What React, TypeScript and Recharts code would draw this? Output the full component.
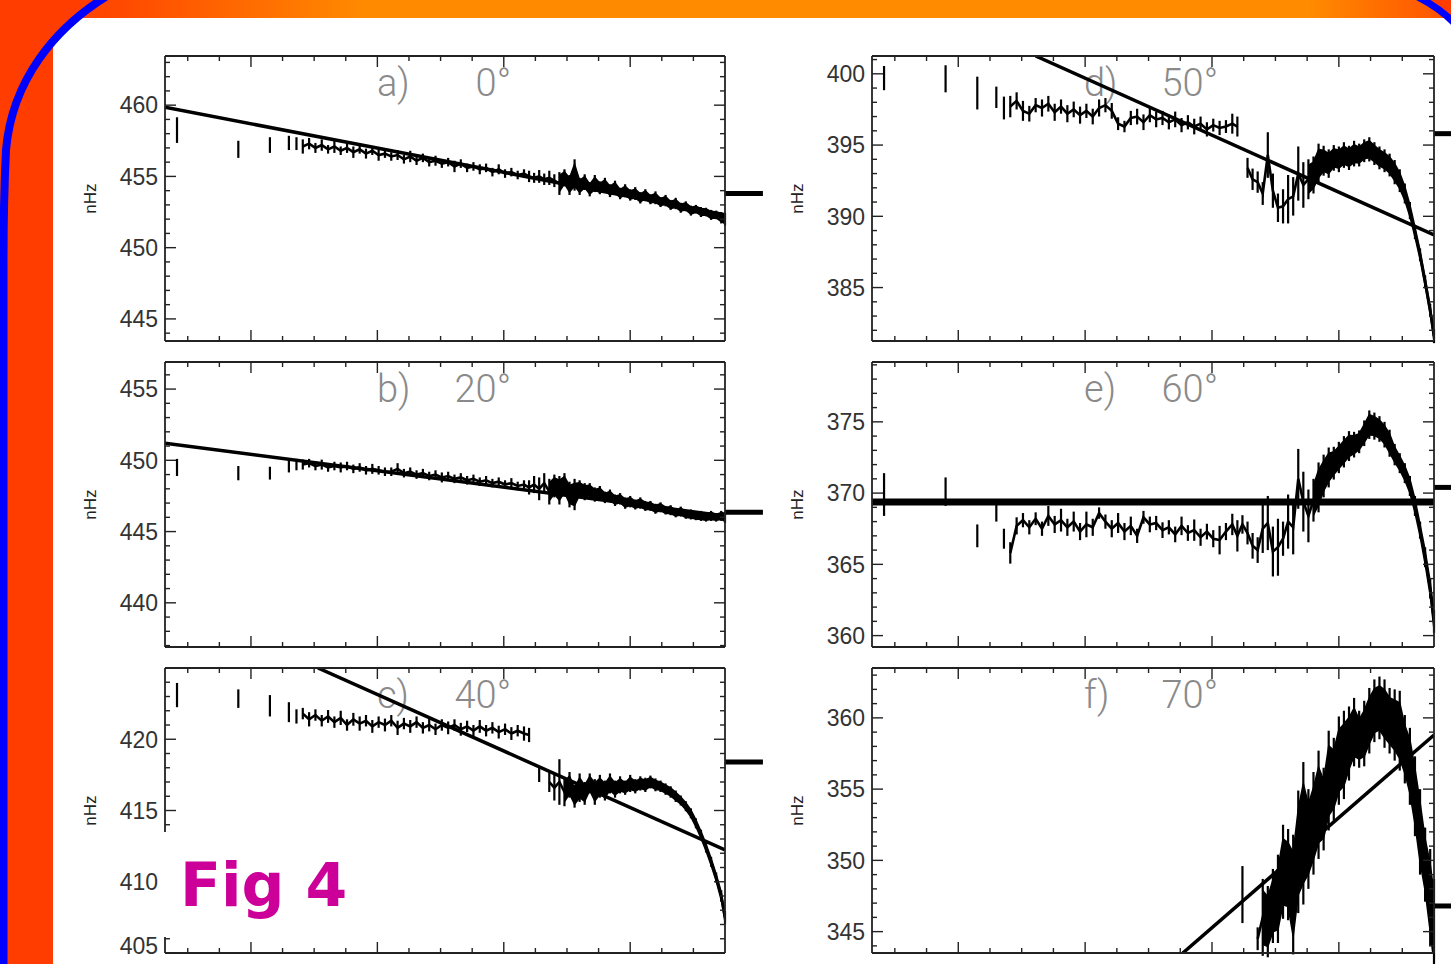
import React from 'react'
import { ComposedChart, XAxis, YAxis, Line, Area, Scatter, ErrorBar, ReferenceLine, Label } from 'recharts'

// radial sample points (shared by every latitude)
const RADIUS = [
  0.5415, 0.590, 0.615, 0.630, 0.636,
  0.641, 0.646, 0.651, 0.656, 0.661, 0.666, 0.671, 0.676, 0.681, 0.686,
  0.691, 0.696, 0.701, 0.706, 0.711, 0.716, 0.721, 0.726, 0.731, 0.736,
  0.741, 0.746, 0.751, 0.756, 0.761, 0.766, 0.771, 0.776, 0.781, 0.786,
  0.791, 0.796, 0.801, 0.806, 0.811, 0.816,
  0.820, 0.824, 0.828, 0.832, 0.836, 0.840, 0.844, 0.848, 0.852, 0.856,
  0.860, 0.864, 0.868, 0.872, 0.876, 0.880, 0.884, 0.888, 0.892, 0.896,
  0.900, 0.904, 0.908, 0.912, 0.916, 0.920, 0.924, 0.928, 0.932, 0.936,
  0.940, 0.944, 0.948, 0.952, 0.956, 0.960, 0.964, 0.968, 0.972, 0.975,
]

const RADIUS_TICKS = [
  0.55, 0.575, 0.6, 0.625, 0.65, 0.675, 0.7, 0.725, 0.75,
  0.775, 0.8, 0.825, 0.85, 0.875, 0.9, 0.925, 0.95,
]

// a) 0 deg
const A_FREQ = [
  458.25, 456.9, 457.2, 457.35, 457.3,
  457.1, 457.3, 457.0, 457.2, 456.9, 457.1, 456.8, 457.0, 456.7, 456.9,
  456.6, 456.8, 456.5, 456.6, 456.4, 456.5, 456.2, 456.4, 456.1, 456.3,
  456.0, 456.1, 455.9, 456.0, 455.7, 455.9, 455.6, 455.7, 455.5, 455.6,
  455.3, 455.5, 455.2, 455.3, 455.1, 455.2,
  455.0, 454.9, 455.0, 454.8, 454.9, 454.7, 454.5, 454.9, 454.4, 455.1,
  454.3, 454.6, 454.1, 454.5, 454.2, 454.4, 454.0, 454.2, 453.8, 454.0,
  453.7, 453.8, 453.5, 453.7, 453.4, 453.5, 453.2, 453.3, 453.0, 453.1,
  452.8, 452.9, 452.6, 452.7, 452.5, 452.5, 452.3, 452.3, 452.1, 452.0,
]
const A_ERR = [
  0.9, 0.6, 0.55, 0.5, 0.45,
  0.5, 0.4, 0.35, 0.4, 0.3, 0.45, 0.3, 0.35, 0.4, 0.3,
  0.35, 0.3, 0.4, 0.3, 0.3, 0.35, 0.3, 0.4, 0.3, 0.3,
  0.3, 0.35, 0.3, 0.3, 0.4, 0.3, 0.3, 0.3, 0.35, 0.3,
  0.3, 0.35, 0.3, 0.3, 0.3, 0.3,
  0.4, 0.35, 0.45, 0.4, 0.5, 0.45, 0.8, 0.6, 0.7, 1.1,
  0.6, 0.55, 0.5, 0.6, 0.45, 0.5, 0.45, 0.5, 0.4, 0.45,
  0.4, 0.45, 0.4, 0.4, 0.35, 0.45, 0.35, 0.4, 0.35, 0.4,
  0.35, 0.35, 0.35, 0.3, 0.35, 0.3, 0.35, 0.3, 0.4, 0.45,
]

// b) 20 deg
const B_FREQ = [
  449.5, 449.1, 449.1, 449.6, 449.7,
  449.7, 449.8, 449.6, 449.7, 449.5, 449.6, 449.5, 449.6, 449.4, 449.5,
  449.3, 449.4, 449.3, 449.2, 449.2, 449.4, 449.1, 449.2, 449.0, 449.1,
  448.9, 449.0, 448.8, 448.9, 448.7, 448.8, 448.6, 448.7, 448.5, 448.6,
  448.4, 448.5, 448.3, 448.4, 448.2, 448.3,
  448.1, 448.3, 448.0, 448.4, 447.8, 448.2, 447.9, 448.3, 447.6, 447.6,
  448.0, 447.8, 447.9, 447.6, 447.7, 447.4, 447.5, 447.2, 447.3, 447.0,
  447.1, 446.9, 447.0, 446.8, 446.8, 446.6, 446.7, 446.5, 446.5, 446.3,
  446.4, 446.2, 446.2, 446.1, 446.1, 446.0, 446.1, 446.0, 446.1, 446.0,
]
const B_ERR = [
  0.6, 0.5, 0.45, 0.45, 0.4,
  0.35, 0.3, 0.3, 0.35, 0.3, 0.3, 0.35, 0.3, 0.3, 0.3,
  0.3, 0.35, 0.3, 0.3, 0.3, 0.4, 0.3, 0.3, 0.3, 0.3,
  0.3, 0.3, 0.35, 0.3, 0.3, 0.3, 0.3, 0.3, 0.3, 0.3,
  0.3, 0.3, 0.3, 0.35, 0.3, 0.3,
  0.5, 0.6, 0.8, 0.7, 0.9, 0.8, 1.0, 0.8, 0.9, 1.1,
  0.6, 0.6, 0.5, 0.5, 0.5, 0.4, 0.45, 0.4, 0.4, 0.4,
  0.4, 0.35, 0.4, 0.35, 0.35, 0.35, 0.35, 0.3, 0.35, 0.3,
  0.35, 0.3, 0.35, 0.3, 0.35, 0.3, 0.35, 0.3, 0.35, 0.4,
]

// c) 40 deg
const C_FREQ = [
  423.1, 422.85, 422.35, 421.9, 421.6,
  421.8, 421.4, 421.7, 421.3, 421.6, 421.2, 421.5, 421.0, 421.4, 421.1,
  421.3, 420.9, 421.2, 421.0, 421.3, 420.8, 421.1, 420.9, 421.2, 420.8,
  421.0, 420.7, 421.0, 420.8, 421.0, 420.7, 420.9, 420.6, 420.9, 420.6,
  420.8, 420.5, 420.7, 420.4, 420.6, 420.4,
  420.3, null, 417.5, null, 417.0, 416.6, 417.0, 416.3, 416.8, 416.0,
  416.6, 416.2, 416.9, 416.3, 416.7, 416.4, 416.9, 416.5, 416.8, 416.6,
  416.9, 416.7, 416.9, 416.8, 417.0, 416.8, 416.7, 416.5, 416.3, 416.0,
  415.7, 415.3, 414.8, 414.1, 413.3, 412.4, 411.4, 410.3, 409.0, 407.5,
]
const C_ERR = [
  0.85, 0.65, 0.75, 0.7, 0.5,
  0.4, 0.5, 0.4, 0.4, 0.45, 0.4, 0.5, 0.4, 0.45, 0.5,
  0.4, 0.45, 0.4, 0.45, 0.4, 0.5, 0.4, 0.45, 0.4, 0.4,
  0.45, 0.4, 0.4, 0.45, 0.4, 0.45, 0.4, 0.4, 0.45, 0.4,
  0.4, 0.45, 0.4, 0.45, 0.4, 0.5,
  0.5, null, 0.5, null, 0.7, 0.9, 1.6, 1.0, 0.9, 0.8,
  1.0, 0.8, 0.7, 0.9, 0.8, 0.7, 0.7, 0.6, 0.6, 0.5,
  0.6, 0.5, 0.5, 0.5, 0.45, 0.45, 0.4, 0.4, 0.4, 0.4,
  0.35, 0.35, 0.35, 0.35, 0.35, 0.35, 0.35, 0.35, 0.4, 0.45,
]

// d) 50 deg
const D_FREQ = [
  399.7, 399.65, 398.65, 398.35, 397.6,
  397.7, 398.1, 397.4, 397.2, 397.8, 397.6, 397.9, 397.3, 397.7, 397.2,
  397.5, 397.1, 397.4, 397.0, 397.6, 397.8, 397.4, 396.5, 396.3, 396.9,
  397.0, 396.6, 397.1, 396.8, 396.9, 396.6, 396.8, 396.4, 396.6, 396.3,
  396.5, 396.1, 396.4, 396.2, 396.3, 396.5,
  396.3, null, 393.4, 392.6, 392.4, 391.6, 394.3, 391.8, 390.6, 390.7,
  391.2, 391.4, 393.0, 392.2, 392.6, 392.9, 393.7, 393.9, 393.7, 394.1,
  394.0, 394.3, 394.1, 394.4, 394.3, 394.6, 394.7, 394.4, 394.1, 393.9,
  393.6, 393.1, 392.5, 391.6, 390.4, 388.9, 387.3, 385.4, 383.4, 381.6,
]
const D_ERR = [
  0.85, 0.95, 1.15, 0.75, 0.8,
  0.75, 0.6, 0.7, 0.55, 0.5, 0.6, 0.55, 0.6, 0.5, 0.6,
  0.55, 0.6, 0.5, 0.55, 0.6, 0.5, 0.55, 0.45, 0.4, 0.5,
  0.55, 0.55, 0.5, 0.55, 0.5, 0.5, 0.55, 0.5, 0.5, 0.55,
  0.5, 0.5, 0.45, 0.5, 0.45, 0.7,
  0.7, null, 0.7, 0.75, 0.75, 0.8, 1.6, 1.2, 1.0, 1.2,
  1.7, 1.35, 1.9, 1.6, 1.4, 1.3, 1.4, 1.05, 1.0, 0.9,
  0.9, 0.9, 0.85, 0.9, 0.8, 0.8, 0.85, 0.8, 0.8, 0.8,
  0.8, 0.85, 0.8, 0.7, 0.6, 0.5, 0.45, 0.45, 0.45, 0.5,
]

// e) 60 deg
const E_FREQ = [
  369.9, 370.1, 367.0, 368.6, 366.8,
  365.8, 367.7, 368.1, 367.6, 368.2, 367.5, 368.4, 367.8, 368.1, 367.6,
  368.0, 367.3, 367.8, 367.6, 368.6, 368.0, 367.5, 367.9, 367.3, 367.7,
  367.0, 368.3, 367.8, 367.9, 367.4, 367.6, 367.1, 367.7, 367.2, 367.4,
  366.9, 367.3, 366.8, 366.7, 367.3, 367.8,
  367.0, 367.8, 367.2, 366.3, 366.0, 367.5, 367.9, 365.9, 366.2, 366.8,
  368.0, 367.6, 371.0, 369.4, 368.4, 369.5, 370.4, 371.2, 371.8, 372.1,
  372.5, 372.9, 373.3, 373.4, 373.6, 374.2, 374.8, 374.7, 374.5, 374.1,
  373.5, 372.7, 372.1, 371.4, 370.5, 369.1, 367.4, 365.5, 363.3, 361.0,
]
const E_ERR = [
  1.5, 1.0, 0.8, 0.6, 0.7,
  0.75, 0.6, 0.5, 0.5, 0.45, 0.5, 0.7, 0.6, 0.8, 0.6,
  0.7, 0.6, 0.9, 0.6, 0.4, 0.5, 0.6, 0.7, 0.6, 0.65,
  0.5, 0.45, 0.55, 0.5, 0.55, 0.5, 0.55, 0.65, 0.55, 0.75,
  0.6, 0.55, 0.6, 1.0, 0.6, 0.75,
  1.1, 0.65, 0.8, 0.9, 0.9, 1.7, 1.9, 1.75, 2.0, 1.2,
  1.9, 1.9, 2.1, 2.1, 1.85, 1.5, 1.75, 1.5, 1.4, 1.15,
  1.1, 1.1, 1.05, 0.9, 0.8, 0.9, 1.0, 0.95, 0.9, 0.9,
  0.95, 0.75, 0.7, 0.7, 0.7, 0.7, 0.6, 0.7, 0.7, 0.8,
]

// f) 70 deg, only the outer radii are resolved
const F_FREQ = [
  null, 347.6, null, null, 344.5, 346.0, 345.7, 346.8, 347.3, 349.2,
  349.0, 347.6, 350.6, 351.9, 351.5, 352.6, 353.9, 353.6, 355.6, 355.7,
  357.0, 357.4, 358.2, 359.0, 358.5, 358.9, 359.8, 360.5, 360.7, 360.3,
  359.8, 359.5, 359.1, 357.8, 356.6, 354.5, 352.0, 349.7, 347.4, 345.2,
]
const F_ERR = [
  null, 2.0, null, null, 0.8, 2.7, 2.5, 2.6, 3.1, 3.3,
  3.2, 4.2, 4.3, 5.0, 3.5, 3.6, 3.8, 2.9, 3.5, 2.9,
  3.1, 3.1, 2.6, 2.4, 2.0, 2.3, 2.3, 2.2, 2.2, 2.4,
  2.3, 2.5, 2.8, 2.4, 2.7, 2.8, 3.0, 2.6, 3.4, 3.5,
]

// straight-line fits
const FIT_A = [{ x: 0.532, y: 459.85 }, { x: 0.975, y: 452.3 }]
const FIT_B = [{ x: 0.532, y: 451.2 }, { x: 0.975, y: 446.1 }]
const FIT_C = [{ x: 0.653, y: 425.0 }, { x: 0.975, y: 412.24 }]
const FIT_D = [{ x: 0.661, y: 401.25 }, { x: 0.975, y: 388.7 }]
const FIT_E = [{ x: 0.532, y: 369.37 }, { x: 0.975, y: 369.37 }]
const FIT_F = [{ x: 0.777, y: 343.5 }, { x: 0.975, y: 358.8 }]

// surface values flagged beside each panel
const SURFACE_NHZ = [453.8, 446.35, 418.4, 395.8, 370.4, 346.8]

const TICKS_A = [444, 445, 446, 447, 448, 449, 450, 451, 452, 453, 454, 455, 456, 457, 458, 459, 460, 461, 462, 463]
const TICKS_B = [437, 438, 439, 440, 441, 442, 443, 444, 445, 446, 447, 448, 449, 450, 451, 452, 453, 454, 455, 456]
const TICKS_C = [405, 406, 407, 408, 409, 410, 411, 412, 413, 414, 415, 416, 417, 418, 419, 420, 421, 422, 423, 424]
const TICKS_D = [382, 383, 384, 385, 386, 387, 388, 389, 390, 391, 392, 393, 394, 395, 396, 397, 398, 399, 400, 401]
const TICKS_E = [360, 361, 362, 363, 364, 365, 366, 367, 368, 369, 370, 371, 372, 373, 374, 375, 376, 377, 378, 379]
const TICKS_F = [344, 345, 346, 347, 348, 349, 350, 351, 352, 353, 354, 355, 356, 357, 358, 359, 360, 361, 362, 363]

const X_DOMAIN = [0.532, 0.975]
const DENSE_FROM = 0.64
const AXIS_W = 95
const RIGHT_W = 42
const PLOT_H = 285
const PAD_TOP = 4
const PAD_BOTTOM = 14
const INK = '#222'
const LABEL_FONT = "'Liberation Sans', Arial, Helvetica, sans-serif"

const PANELS = [
  { tag: 'a)', lat: '0°', left: 165, top: 56, width: 560, domain: [443.45, 463.45], ticks: TICKS_A, freq: A_FREQ, err: A_ERR, start: 0, bandFrom: 0.842, fit: FIT_A, fitWidth: 3.5, mark: SURFACE_NHZ[0], markTo: 1.005 },
  { tag: 'b)', lat: '20°', left: 165, top: 362, width: 560, domain: [436.9, 456.9], ticks: TICKS_B, freq: B_FREQ, err: B_ERR, start: 0, bandFrom: 0.834, fit: FIT_B, fitWidth: 3.5, mark: SURFACE_NHZ[1], markTo: 1.005 },
  { tag: 'c)', lat: '40°', left: 165, top: 668, width: 560, domain: [405.0, 425.0], ticks: TICKS_C, freq: C_FREQ, err: C_ERR, start: 0, bandFrom: 0.846, fit: FIT_C, fitWidth: 3.5, mark: SURFACE_NHZ[2], markTo: 1.005 },
  { tag: 'd)', lat: '50°', left: 872, top: 56, width: 562, domain: [381.25, 401.25], ticks: TICKS_D, freq: D_FREQ, err: D_ERR, start: 0, bandFrom: 0.874, fit: FIT_D, fitWidth: 3.5, mark: SURFACE_NHZ[3], markTo: 0.992 },
  { tag: 'e)', lat: '60°', left: 872, top: 362, width: 562, domain: [359.2, 379.2], ticks: TICKS_E, freq: E_FREQ, err: E_ERR, start: 0, bandFrom: 0.878, fit: FIT_E, fitWidth: 7, mark: SURFACE_NHZ[4], markTo: 0.992 },
  { tag: 'f)', lat: '70°', left: 872, top: 668, width: 562, domain: [343.5, 363.5], ticks: TICKS_F, freq: F_FREQ, err: F_ERR, start: 41, bandFrom: 0.838, fit: FIT_F, fitWidth: 3.5, mark: SURFACE_NHZ[5], markTo: 0.992 },
]

const isMajorX = (v: number) => Math.round(v * 1000) % 100 === 0
const isMajorY = (v: number) => Math.round(v) % 5 === 0

function LeftTick({ x, y, payload, floor }: any) {
  const major = isMajorY(payload.value)
  // a label sitting right on the bottom edge is lifted so it stays on the page
  const lift = major && payload.value - floor < 0.3 ? -7 : 0
  return (
    <g>
      <line x1={x} x2={x + (major ? 11 : 5)} y1={y} y2={y} stroke={INK} strokeWidth={1.4} />
      {major && (
        <text x={x - 7} y={y + lift} dy="0.36em" textAnchor="end" fontSize={23} fill="#333" fontFamily={LABEL_FONT}>
          {payload.value}
        </text>
      )}
    </g>
  )
}

function RightTick({ x, y, payload }: any) {
  const len = isMajorY(payload.value) ? 11 : 5
  return <line x1={x} x2={x - len} y1={y} y2={y} stroke={INK} strokeWidth={1.4} />
}

function TopTick({ x, y, payload }: any) {
  const len = isMajorX(payload.value) ? 11 : 5
  return <line x1={x} x2={x} y1={y} y2={y + len} stroke={INK} strokeWidth={1.4} />
}

function BottomTick({ x, y, payload }: any) {
  const len = isMajorX(payload.value) ? 11 : 5
  return <line x1={x} x2={x} y1={y} y2={y - len} stroke={INK} strokeWidth={1.4} />
}

const noDot = () => <g />
const frame = { stroke: INK, strokeWidth: 1.8 }
const bandKey = (r: any) => r.band

function Panel({ p }: { p: (typeof PANELS)[number] }) {
  const rows = p.freq.map((y, i) => ({ x: RADIUS[p.start + i], y, e: p.err[i] }))
  const points = rows.filter((r) => r.y != null)
  const trace = rows.map((r) => ({ x: r.x, y: r.x >= DENSE_FROM ? r.y : null }))
  // solid envelope where the samples are packed tightly
  const envelope = rows.map((r) => ({
    x: r.x,
    band: r.y != null && r.e != null && r.x >= p.bandFrom ? [r.y - 0.7 * r.e, r.y + 0.7 * r.e] : null,
  }))

  return (
    <div style={{ position: 'absolute', left: p.left - AXIS_W, top: p.top - PAD_TOP }}>
      <ComposedChart width={AXIS_W + p.width + RIGHT_W} height={PLOT_H + PAD_TOP + PAD_BOTTOM}
        margin={{ top: PAD_TOP - 1, right: 0, bottom: PAD_BOTTOM - 1, left: 0 }}>
        <XAxis xAxisId="b" type="number" dataKey="x" domain={X_DOMAIN} allowDataOverflow ticks={RADIUS_TICKS} interval={0}
          height={1} tickSize={0} tickMargin={0} tickLine={false} axisLine={frame} tick={BottomTick} />
        <XAxis xAxisId="t" orientation="top" type="number" dataKey="x" domain={X_DOMAIN} allowDataOverflow ticks={RADIUS_TICKS} interval={0}
          height={1} tickSize={0} tickMargin={0} tickLine={false} axisLine={frame} tick={TopTick} />
        <YAxis yAxisId="l" type="number" domain={p.domain} allowDataOverflow ticks={p.ticks} interval={0}
          width={AXIS_W} tickSize={0} tickMargin={0} tickLine={false} axisLine={frame}
          tick={(props: any) => <LeftTick {...props} floor={p.domain[0]} />}>
          <Label value="nHz" angle={-90} position="center" dx={-28} fontSize={17} fill={INK} fontFamily={LABEL_FONT} />
        </YAxis>
        <YAxis yAxisId="r" orientation="right" type="number" domain={p.domain} allowDataOverflow ticks={p.ticks} interval={0}
          width={RIGHT_W} tickSize={0} tickMargin={0} tickLine={false} axisLine={frame} tick={RightTick} />

        <Line xAxisId="b" yAxisId="l" data={p.fit} dataKey="y" stroke="#000" strokeWidth={p.fitWidth}
          dot={false} activeDot={false} isAnimationActive={false} />
        <Area xAxisId="b" yAxisId="l" data={envelope} dataKey={bandKey} stroke="#000" strokeWidth={1.5}
          fill="#000" fillOpacity={1} connectNulls={false} dot={false} activeDot={false} isAnimationActive={false} />
        <Line xAxisId="b" yAxisId="l" data={trace} dataKey="y" stroke="#000" strokeWidth={2.6}
          dot={false} activeDot={false} connectNulls={false} isAnimationActive={false} />
        <Scatter xAxisId="b" yAxisId="l" data={points} dataKey="y" shape={noDot} isAnimationActive={false}>
          <ErrorBar dataKey="e" direction="y" width={0} stroke="#000" strokeWidth={2.2} isAnimationActive={false} />
        </Scatter>

        <ReferenceLine xAxisId="b" yAxisId="l" ifOverflow="visible" stroke="#000" strokeWidth={5}
          segment={[{ x: 0.975, y: p.mark }, { x: p.markTo, y: p.mark }]} />
      </ComposedChart>
    </div>
  )
}

export default function App() {
  return (
    <div style={{ position: 'fixed', left: 0, top: 0, width: 1451, height: 964, overflow: 'hidden', background: '#fff' }}>
      {/* slide background */}
      <svg width={1451} height={964} style={{ position: 'absolute', left: 0, top: 0 }}>
        <defs>
          <linearGradient id="band" x1="0" x2="1" y1="0" y2="0">
            <stop offset="0" stopColor="#ff3c00" />
            <stop offset="0.08" stopColor="#ff4800" />
            <stop offset="0.25" stopColor="#ff8a00" />
            <stop offset="0.9" stopColor="#ff8c00" />
            <stop offset="1" stopColor="#ff5000" />
          </linearGradient>
        </defs>
        <rect x={0} y={0} width={1451} height={964} fill="#ff3d00" />
        <rect x={0} y={0} width={1451} height={18} fill="url(#band)" />
        <rect x={53} y={18} width={1398} height={946} fill="#fff" />
        <g fontFamily="Roboto, 'Open Sans', sans-serif" fontWeight={300} fontSize={38} fill="#8a8a8a">
          {PANELS.map((p) => (
            <g key={p.tag}>
              <text x={p.left + 212} y={p.top + 40}>{p.tag}</text>
              <text x={p.left + 346} y={p.top + 40} textAnchor="end">{p.lat}</text>
            </g>
          ))}
        </g>
      </svg>

      {PANELS.map((p) => (
        <Panel key={p.tag} p={p} />
      ))}

      {/* slide decoration on top */}
      <svg width={1451} height={964} style={{ position: 'absolute', left: 0, top: 0 }}>
        <path d="M 107 -4 C 55 28, 12 80, 6 150 C 4 190, 3.5 220, 3.5 260 L 3.5 970 L -10 970 L -10 -4 Z" fill="#ff3d00" />
        <path d="M 107 -4 C 55 28, 12 80, 6 150 C 4 190, 3.5 220, 3.5 260 L 3.5 970" fill="none" stroke="#0000ff" strokeWidth={8} />
        <path d="M 1416 -4 C 1432 4, 1444 12, 1455 24 L 1460 -4 Z" fill="#ff3d00" />
        <path d="M 1416 -4 C 1432 4, 1444 12, 1455 24" fill="none" stroke="#0000ff" strokeWidth={7} />
        <rect x={160} y={832} width={195} height={105} fill="#fff" />
        <text x={180} y={906} fontFamily="'DejaVu Sans', sans-serif" fontWeight={700} fontSize={60} fill="#cc0099">
          Fig 4
        </text>
      </svg>
    </div>
  )
}
